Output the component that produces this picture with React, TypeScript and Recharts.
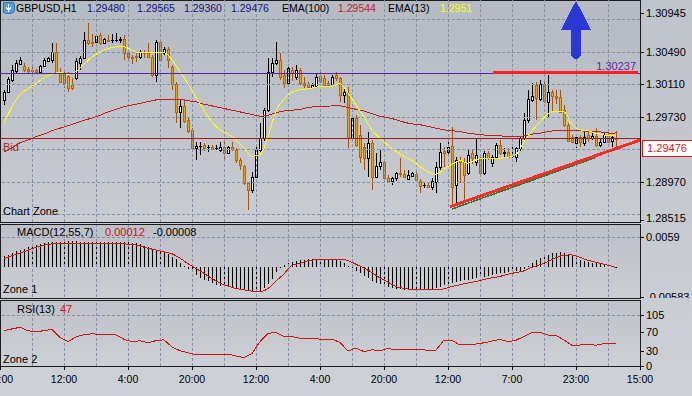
import React from 'react';
import { ComposedChart, Bar, Line, XAxis, YAxis, ReferenceLine, ReferenceDot } from 'recharts';

const FONT = '"Liberation Sans", Arial, sans-serif';

// GBPUSD H1 candles, oldest first
const opens = [
  1.2993, 1.3002, 1.3016, 1.3027, 1.3035, 1.3033, 1.3029, 1.3028, 1.3028, 1.3026,
  1.3033, 1.3039, 1.3040, 1.3049, 1.3026, 1.3023, 1.3021, 1.3010, 1.3019, 1.3036,
  1.3042, 1.3063, 1.3061, 1.3061, 1.3069, 1.3060, 1.3063, 1.3063, 1.3063, 1.3063,
  1.3064, 1.3048, 1.3043, 1.3044, 1.3043, 1.3049, 1.3048, 1.3043, 1.3022, 1.3061,
  1.3048, 1.3053, 1.3032, 1.3012, 1.2979, 1.2986, 1.2970, 1.2958, 1.2937, 1.2939,
  1.2940, 1.2938, 1.2938, 1.2937, 1.2934, 1.2938, 1.2931, 1.2938, 1.2934, 1.2923,
  1.2916, 1.2896, 1.2888, 1.2903, 1.2934, 1.2948, 1.2981, 1.3026, 1.3036, 1.3040,
  1.3022, 1.3013, 1.3028, 1.3020, 1.3028, 1.3013, 1.3012, 1.3008, 1.3009, 1.3021,
  1.3019, 1.3013, 1.3012, 1.3022, 1.3019, 1.2999, 1.3001, 1.2948, 1.2972, 1.2952,
  1.2938, 1.2925, 1.2943, 1.2903, 1.2916, 1.2920, 1.2902, 1.2898, 1.2902, 1.2908,
  1.2906, 1.2901, 1.2904, 1.2906, 1.2898, 1.2894, 1.2894, 1.2891, 1.2897, 1.2915,
  1.2933, 1.2932, 1.2939, 1.2894, 1.2923, 1.2920, 1.2908, 1.2931, 1.2920, 1.2925,
  1.2908, 1.2931, 1.2919, 1.2926, 1.2940, 1.2931, 1.2932, 1.2927, 1.2926, 1.2937,
  1.2948, 1.2970, 1.2993, 1.3010, 1.2994, 1.3012, 1.2991, 1.3002, 1.2998, 1.2996,
  1.2981, 1.2964, 1.2950, 1.2943, 1.2950, 1.2943, 1.2952, 1.2948, 1.2951, 1.2940,
  1.2944, 1.2951, 1.2945, 1.2948,
];
const highs = [
  1.3005, 1.3020, 1.3034, 1.3040, 1.3043, 1.3036, 1.3032, 1.3032, 1.3029, 1.3034,
  1.3042, 1.3043, 1.3060, 1.3060, 1.3030, 1.3026, 1.3026, 1.3019, 1.3042, 1.3044,
  1.3072, 1.3083, 1.3070, 1.3070, 1.3071, 1.3065, 1.3069, 1.3070, 1.3071, 1.3067,
  1.3069, 1.3049, 1.3046, 1.3048, 1.3051, 1.3051, 1.3060, 1.3046, 1.3063, 1.3063,
  1.3055, 1.3055, 1.3034, 1.3014, 1.2993, 1.2993, 1.2972, 1.2960, 1.2944, 1.2944,
  1.2943, 1.2940, 1.2940, 1.2940, 1.2944, 1.2944, 1.2939, 1.2944, 1.2937, 1.2925,
  1.2917, 1.2897, 1.2909, 1.2938, 1.2966, 1.2984, 1.3042, 1.3042, 1.3061, 1.3048,
  1.3028, 1.3032, 1.3032, 1.3034, 1.3030, 1.3020, 1.3014, 1.3013, 1.3025, 1.3028,
  1.3022, 1.3015, 1.3022, 1.3026, 1.3020, 1.3008, 1.3008, 1.2975, 1.2975, 1.2964,
  1.2943, 1.2956, 1.2946, 1.2931, 1.2934, 1.2923, 1.2905, 1.2903, 1.2909, 1.2925,
  1.2911, 1.2911, 1.2909, 1.2909, 1.2901, 1.2896, 1.2896, 1.2902, 1.2920, 1.2943,
  1.2938, 1.2948, 1.2961, 1.2926, 1.2926, 1.2925, 1.2934, 1.2936, 1.2948, 1.2929,
  1.2933, 1.2933, 1.2929, 1.2943, 1.2946, 1.2937, 1.2937, 1.2938, 1.2938, 1.2950,
  1.2978, 1.3005, 1.3013, 1.3014, 1.3016, 1.3016, 1.3022, 1.3005, 1.3005, 1.3005,
  1.2987, 1.2966, 1.2952, 1.2952, 1.2952, 1.2956, 1.2956, 1.2954, 1.2960, 1.2948,
  1.2954, 1.2954, 1.2952, 1.29565,
];
const lows = [
  1.2987, 1.3001, 1.3014, 1.3025, 1.3034, 1.3026, 1.3025, 1.3020, 1.3023, 1.3023,
  1.3032, 1.3037, 1.3037, 1.3025, 1.3013, 1.3007, 1.3003, 1.3005, 1.3016, 1.3028,
  1.3040, 1.3057, 1.3055, 1.3060, 1.3057, 1.3060, 1.3061, 1.3060, 1.3060, 1.3060,
  1.3040, 1.3040, 1.3036, 1.3037, 1.3040, 1.3042, 1.3042, 1.3020, 1.3014, 1.3037,
  1.3046, 1.3030, 1.3005, 1.2966, 1.2960, 1.2966, 1.2954, 1.2932, 1.2923, 1.2929,
  1.2934, 1.2932, 1.2934, 1.2934, 1.2932, 1.2923, 1.2930, 1.2933, 1.2920, 1.2911,
  1.2894, 1.2864, 1.2885, 1.2903, 1.2932, 1.2946, 1.2979, 1.3020, 1.3034, 1.3016,
  1.3007, 1.3010, 1.3016, 1.3016, 1.3010, 1.3007, 1.3006, 1.3007, 1.3008, 1.3013,
  1.3008, 1.3009, 1.3010, 1.3016, 1.2991, 1.2989, 1.2937, 1.2946, 1.2938, 1.2919,
  1.2911, 1.2903, 1.2888, 1.2902, 1.2911, 1.2899, 1.2896, 1.2894, 1.2899, 1.2903,
  1.2902, 1.2899, 1.2903, 1.2897, 1.2885, 1.2890, 1.2890, 1.2888, 1.2884, 1.2911,
  1.2915, 1.2926, 1.2868, 1.2869, 1.2896, 1.2876, 1.2905, 1.2919, 1.2915, 1.2905,
  1.2905, 1.2923, 1.2915, 1.2925, 1.2929, 1.2926, 1.2925, 1.2925, 1.2920, 1.2934,
  1.2946, 1.2967, 1.2991, 1.2970, 1.2991, 1.2989, 1.2973, 1.2981, 1.2989, 1.2978,
  1.2961, 1.2944, 1.2943, 1.2937, 1.2938, 1.2940, 1.2944, 1.2946, 1.2938, 1.2937,
  1.2943, 1.2943, 1.2938, 1.2936,
];
const closes = [
  1.3002, 1.3018, 1.3028, 1.3036, 1.3040, 1.3028, 1.3027, 1.3027, 1.3026, 1.3033,
  1.3040, 1.3042, 1.3049, 1.3026, 1.3014, 1.3013, 1.3007, 1.3007, 1.3039, 1.3042,
  1.3063, 1.3060, 1.3060, 1.3068, 1.3060, 1.3064, 1.3062, 1.3063, 1.3063, 1.3064,
  1.3048, 1.3043, 1.3042, 1.3043, 1.3049, 1.3048, 1.3043, 1.3022, 1.3061, 1.3040,
  1.3053, 1.3040, 1.3012, 1.2979, 1.2986, 1.2968, 1.2957, 1.2937, 1.2939, 1.2939,
  1.2937, 1.2938, 1.2936, 1.2937, 1.2938, 1.2931, 1.2938, 1.2936, 1.2923, 1.2917,
  1.2896, 1.2888, 1.2903, 1.2934, 1.2948, 1.2981, 1.3026, 1.3036, 1.3040, 1.3020,
  1.3013, 1.3030, 1.3025, 1.3028, 1.3013, 1.3010, 1.3008, 1.3010, 1.3020, 1.3015,
  1.3010, 1.3010, 1.3020, 1.3019, 1.2999, 1.3002, 1.2948, 1.2972, 1.2940, 1.2926,
  1.2925, 1.2943, 1.2903, 1.2916, 1.2920, 1.2902, 1.2898, 1.2902, 1.2908, 1.2906,
  1.2903, 1.2905, 1.2908, 1.2899, 1.2892, 1.2894, 1.2891, 1.2898, 1.2915, 1.2932,
  1.2931, 1.2938, 1.2891, 1.2923, 1.2920, 1.2905, 1.2929, 1.2925, 1.2929, 1.2908,
  1.2931, 1.2925, 1.2926, 1.2940, 1.2931, 1.2932, 1.2926, 1.2927, 1.2937, 1.2948,
  1.2970, 1.2994, 1.2998, 1.2995, 1.3012, 1.2992, 1.3002, 1.2998, 1.2995, 1.2979,
  1.2964, 1.2945, 1.2944, 1.2950, 1.2944, 1.2950, 1.2948, 1.2951, 1.2940, 1.2944,
  1.2952, 1.2944, 1.2950, 1.29476,
];

// indicator readings taken on every second bar (0, 2, 4 ... 152)
const ema100 = [
  1.2932, 1.2937, 1.2943, 1.2946, 1.2950, 1.2953, 1.2957, 1.2960, 1.2963, 1.2966,
  1.2969, 1.2972, 1.2975, 1.2979, 1.2982, 1.2985, 1.2987, 1.2989, 1.2991, 1.2993,
  1.2994, 1.2994, 1.2994, 1.2992, 1.2991, 1.2988, 1.2986, 1.2984, 1.2982, 1.2980,
  1.2978, 1.2976, 1.2974, 1.2975, 1.2978, 1.2980, 1.2981, 1.2982, 1.2984, 1.2985,
  1.2985, 1.2986, 1.2986, 1.2984, 1.2982, 1.2980, 1.2977, 1.2974, 1.2972, 1.2970,
  1.2967, 1.2965, 1.2964, 1.2962, 1.2960, 1.2958, 1.2957, 1.2956, 1.2954, 1.2953,
  1.2952, 1.2951, 1.2951, 1.2950, 1.2950, 1.2951, 1.2953, 1.2954, 1.2956, 1.2957,
  1.2957, 1.2957, 1.2957, 1.2956, 1.2956, 1.2955, 1.2954,
];
const ema13 = [
  1.2966, 1.2985, 1.2999, 1.3006, 1.3012, 1.3019, 1.3023, 1.3025, 1.3023, 1.3026,
  1.3035, 1.3043, 1.3049, 1.3053, 1.3055, 1.3055, 1.3051, 1.3048, 1.3048, 1.3048,
  1.3048, 1.3040, 1.3026, 1.3012, 1.2996, 1.2981, 1.2967, 1.2958, 1.2953, 1.2946,
  1.2937, 1.2927, 1.2929, 1.2950, 1.2980, 1.2994, 1.3002, 1.3005, 1.3006, 1.3008,
  1.3009, 1.3009, 1.3012, 1.3001, 1.2987, 1.2973, 1.2958, 1.2948, 1.2940, 1.2933,
  1.2927, 1.2922, 1.2915, 1.2909, 1.2906, 1.2912, 1.2918, 1.2922, 1.2919, 1.2923,
  1.2925, 1.2925, 1.2925, 1.2926, 1.2929, 1.2944, 1.2957, 1.2967, 1.2977, 1.2980,
  1.2979, 1.2965, 1.2958, 1.2957, 1.2954, 1.2952, 1.2951,
];
const signal = [
  0.00168, 0.00223, 0.00278, 0.00332, 0.00387, 0.00428, 0.00456, 0.00473, 0.00473, 0.00473,
  0.00470, 0.00462, 0.00458, 0.00456, 0.00455, 0.00454, 0.00450, 0.00413, 0.00371, 0.00336,
  0.00299, 0.00262, 0.00176, 0.00070, -0.00025, -0.00121, -0.00221, -0.00311, -0.00369, -0.00416,
  -0.00444, -0.00469, -0.00481, -0.00416, -0.00270, -0.00133, 0.00035, 0.00076, 0.00125, 0.00149,
  0.00160, 0.00160, 0.00160, 0.00129, 0.00057, -0.00018, -0.00104, -0.00211, -0.00293, -0.00381,
  -0.00414, -0.00438, -0.00446, -0.00446, -0.00446, -0.00422, -0.00375, -0.00344, -0.00309, -0.00278,
  -0.00242, -0.00207, -0.00180, -0.00137, -0.00104, -0.00072, -0.00002, 0.00047, 0.00113, 0.00186,
  0.00235, 0.00239, 0.00192, 0.00135, 0.00096, 0.00057, 0.00018,
];
const rsi = [
  72.7, 76.4, 79.7, 72.5, 70.6, 72.7, 75.4, 59.1, 50.0, 60.1,
  64.4, 66.5, 64.9, 64.9, 64.2, 55.0, 50.0, 52.1, 48.0, 52.3,
  53.9, 39.1, 31.5, 27.4, 23.1, 24.1, 24.1, 24.1, 24.7, 20.4,
  17.3, 25.9, 50.0, 67.3, 69.0, 60.5, 60.7, 57.0, 57.0, 57.0,
  53.5, 55.6, 48.4, 30.9, 37.1, 29.4, 33.6, 31.3, 36.0, 33.4,
  34.6, 33.4, 34.4, 31.9, 32.5, 53.5, 52.5, 43.2, 44.7, 45.3,
  47.8, 51.3, 55.0, 50.0, 53.1, 60.9, 69.4, 69.4, 63.8, 62.8,
  53.5, 42.6, 43.2, 44.7, 42.8, 46.1, 45.7,
];
// readings of the last bar, as printed in the panel headers
const lastEma100 = 1.29544;
const lastEma13 = 1.2951;
const lastMacd = 0.00012;
const lastSignal = -0.00008;
const lastRsi = 47;

// MACD(12,55,7) main line, one value per bar
const macd = [
  0.00219, 0.00248, 0.00278, 0.00307, 0.00336, 0.00362, 0.00389, 0.00414, 0.00438, 0.00454,
  0.00469, 0.00487, 0.00495, 0.00500, 0.00502, 0.00506, 0.00510, 0.00510, 0.00506, 0.00502,
  0.00497, 0.00494, 0.00492, 0.00493, 0.00495, 0.00494, 0.00492, 0.00491, 0.00490, 0.00490,
  0.00489, 0.00485, 0.00480, 0.00473, 0.00444, 0.00414, 0.00389, 0.00364, 0.00340, 0.00317,
  0.00297, 0.00264, 0.00209, 0.00154, 0.00090, 0.00023, -0.00039, -0.00094, -0.00152, -0.00211,
  -0.00242, -0.00276, -0.00309, -0.00340, -0.00360, -0.00373, -0.00387, -0.00403, -0.00418, -0.00434,
  -0.00450, -0.00465, -0.00481, -0.00477, -0.00461, -0.00407, -0.00334, -0.00231, -0.00094, -0.00006,
  0.00051, 0.00084, 0.00109, 0.00125, 0.00141, 0.00145, 0.00151, 0.00154, 0.00158, 0.00160,
  0.00160, 0.00160, 0.00160, 0.00143, 0.00121, 0.00074, 0.00027, -0.00020, -0.00066, -0.00113,
  -0.00168, -0.00221, -0.00276, -0.00309, -0.00338, -0.00366, -0.00393, -0.00411, -0.00420, -0.00430,
  -0.00438, -0.00446, -0.00446, -0.00446, -0.00446, -0.00446, -0.00434, -0.00424, -0.00409, -0.00383,
  -0.00354, -0.00325, -0.00301, -0.00289, -0.00274, -0.00260, -0.00246, -0.00237, -0.00217, -0.00201,
  -0.00188, -0.00168, -0.00151, -0.00133, -0.00113, -0.00108, -0.00102, -0.00096, -0.00082, -0.00066,
  -0.00045, 0.00023, 0.00082, 0.00141, 0.00170, 0.00207, 0.00239, 0.00270, 0.00285, 0.00297,
  0.00274, 0.00250, 0.00219, 0.00180, 0.00141, 0.00121, 0.00102, 0.00086, 0.00074, 0.00063,
  0.00051, 0.00041, 0.00031, lastMacd,
];

const bidPrice = 1.29476;
const levelPrice = 1.30237;
const priceTicks = [1.28515, 1.2897, 1.2973, 1.3011, 1.3049, 1.30945];
const priceGrid = [1.2859, 1.2897, 1.2935, 1.2973, 1.3011, 1.3049, 1.3087];
const macdTicks = [-0.00583, 0.0059];
const rsiTicks = [0, 30, 70, 105];
const gridBars = [7, 15, 23, 31, 39, 47, 55, 63, 71, 79, 87, 95, 103, 111, 119, 127, 135, 143, 151];
const timeTicks = [-1, 15, 31, 47, 63, 79, 95, 111, 127, 143, 159];
const timeLabels = ['20:00', '12:00', '4:00', '20:00', '12:00', '4:00', '20:00', '12:00', '7:00', '23:00', '15:00'];

// hand-drawn objects on the price chart
const supportLine = [{ x: 111.5, y: 1.28682 }, { x: 159, y: 1.2946 }];
const supportShadow = [{ x: 112, y: 1.28655 }, { x: 148, y: 1.29259 }];
const resistLine = [{ x: 122.25, y: 1.3025 }, { x: 158.5, y: 1.3025 }];
const arrowTip = { x: 143, y: 1.3109 };

const X_DOMAIN: [number, number] = [-1, 159];
const lastBar = closes.length - 1;

// every-second-bar readings plus the header value of the last bar
const sparse = (arr: number[], last: number) =>
  arr.map((v, k) => ({ i: k * 2, v })).concat([{ i: lastBar, v: last }]);

const bars = closes.map((c, i) => ({
  i, o: opens[i], h: highs[i], l: lows[i], c, range: [lows[i], highs[i]],
}));
const ema100Pts = sparse(ema100, lastEma100);
const ema13Pts = sparse(ema13, lastEma13);
const macdRows = macd.map((m, i) => ({ i, hist: m }));
const signalPts = sparse(signal, lastSignal);
const rsiPts = sparse(rsi, lastRsi);

const GRID = '#8592a6';
const axisTick = { fontSize: 11, fill: '#000', fontFamily: FONT };

function Candle(props: any) {
  const { x, y, width, height, payload } = props;
  if (x == null || payload == null) return null;
  const { o, h, l, c } = payload;
  const y0 = Math.min(y, y + height);
  const hh = Math.abs(height);
  const span = h - l;
  const py = (v: number) => (span > 0 ? y0 + ((h - v) / span) * hh : y0);
  const cx = Math.floor(x + width / 2);
  const up = c >= o;
  const top = Math.round(py(Math.max(o, c)));
  const bot = Math.round(py(Math.min(o, c)));
  const wick = up ? '#000000' : '#a4520c';
  return (
    <g>
      <rect x={cx} y={Math.round(y0)} width={1} height={Math.max(1, Math.round(hh))} fill={wick} />
      {bot - top < 1 ? (
        <rect x={cx - 1} y={top} width={3} height={1} fill={wick} />
      ) : (
        <rect x={cx - 0.5} y={top + 0.5} width={2} height={bot - top}
          fill={up ? '#ffffff' : '#f5a400'} stroke={up ? '#000000' : '#b86400'} strokeWidth={1} />
      )}
    </g>
  );
}

function HistBar(props: any) {
  const { x, y, width, height } = props;
  if (x == null) return null;
  const y0 = Math.min(y, y + height);
  return <rect x={Math.floor(x + width / 2)} y={y0} width={1} height={Math.max(1, Math.abs(height))} fill="#000" />;
}

// the lowest price label sits a little above its tick, as in the terminal
function PriceTick(props: any) {
  const { x, y, payload } = props;
  const lift = payload.value === priceTicks[0] ? -3 : 0;
  return (
    <text x={x} y={y + lift} dy="0.355em" textAnchor="start" fill="#000" fontSize={11} fontFamily={FONT}>
      {Number(payload.value).toFixed(5)}
    </text>
  );
}

function UpArrow(props: any) {
  const { cx, cy } = props;
  if (cx == null) return null;
  const d = `M${cx},${cy} L${cx + 15},${cy + 29} L${cx + 5},${cy + 29} L${cx + 5},${cy + 55} ` +
    `Q${cx},${cy + 62} ${cx - 5},${cy + 55} L${cx - 5},${cy + 29} L${cx - 15},${cy + 29} Z`;
  return <path d={d} fill="#2a38d6" />;
}

function BidLabel(props: any) {
  const { x, y, width } = props.viewBox;
  return (
    <g>
      <text x={x + 3} y={y + 12} fill="#b02424" fontSize={11} fontFamily={FONT}>Bid</text>
      <rect x={x + width + 2.5} y={y + 1.5} width={50} height={16} fill="#ffffff" stroke="#d41a1a" />
      <text x={x + width + 27} y={y + 13.5} textAnchor="middle" fill="#e01010" fontSize={11} fontFamily={FONT}>
        {bidPrice.toFixed(5)}
      </text>
    </g>
  );
}

const gridLinesX = gridBars.map((g) => (
  <ReferenceLine key={'gx' + g} x={g} stroke={GRID} strokeDasharray="3 2" />
));

const panel = (top: number, height: number, from: string, to: string): React.CSSProperties => ({
  position: 'absolute', left: 0, top, width: 641, height, boxSizing: 'border-box',
  border: '1px solid #1c1c1c', background: `linear-gradient(${from}, ${to})`,
});

export default function App() {
  return (
    <div style={{ position: 'absolute', left: 0, top: 0, width: 692, height: 396, overflow: 'hidden',
      background: 'linear-gradient(#bfc3ca, #cdd0d4)', fontFamily: FONT, shapeRendering: 'crispEdges' }}>
      <div style={panel(0, 223, '#b5bac3', '#c9ccd1')} />
      <div style={panel(224, 75, '#bcc0c7', '#cbced2')} />
      <div style={panel(300, 67, '#bec2c8', '#cdd0d4')} />

      <div style={{ position: 'absolute', left: 0, top: 0 }}>
        <ComposedChart width={692} height={224} data={bars} margin={{ top: 0, right: 0, bottom: 2, left: 0 }}>
          <XAxis type="number" dataKey="i" domain={X_DOMAIN} hide allowDataOverflow />
          <YAxis orientation="right" width={52} domain={[1.28503, 1.31098]} ticks={priceTicks}
            allowDataOverflow tick={<PriceTick />}
            tickSize={4} tickLine={{ stroke: '#111' }} axisLine={false} interval={0} />
          {gridLinesX}
          {priceGrid.map((p) => (
            <ReferenceLine key={'gy' + p} y={p} stroke={GRID} strokeDasharray="3 2" />
          ))}
          <Bar dataKey="range" barSize={3} shape={<Candle />} isAnimationActive={false} />
          <Line data={ema100Pts} dataKey="v" type="monotone" stroke="#c41c1c" strokeWidth={1}
            dot={false} activeDot={false} isAnimationActive={false} />
          <Line data={ema13Pts} dataKey="v" type="monotone" stroke="#ffff00" strokeWidth={1}
            dot={false} activeDot={false} isAnimationActive={false} />
          <ReferenceLine y={levelPrice} stroke="#5e1fa8" strokeWidth={1}
            label={{ value: levelPrice.toFixed(5), position: 'insideBottomRight', offset: 4, fill: '#5a2aa0', fontSize: 11, fontFamily: FONT }} />
          <ReferenceLine y={bidPrice} stroke="#a31a1a" strokeWidth={1} label={<BidLabel />} />
          <ReferenceLine segment={supportShadow} stroke="#2f7a2f" strokeWidth={1.5} />
          <ReferenceLine segment={supportLine} stroke="#ff2b2b" strokeWidth={3} />
          <ReferenceLine segment={resistLine} stroke="#ff2020" strokeWidth={3} />
          <ReferenceDot x={arrowTip.x} y={arrowTip.y} r={1} shape={<UpArrow />} ifOverflow="visible" />
        </ComposedChart>
      </div>

      <div style={{ position: 'absolute', left: 0, top: 224 }}>
        <ComposedChart width={692} height={74} data={macdRows} margin={{ top: 1, right: 0, bottom: 1, left: 0 }}>
          <XAxis type="number" dataKey="i" domain={X_DOMAIN} hide allowDataOverflow />
          <YAxis orientation="right" width={52} domain={[-0.00583, 0.00825]} ticks={macdTicks}
            allowDataOverflow tickFormatter={(v: number) => String(v)} tick={axisTick}
            tickSize={4} tickLine={{ stroke: '#111' }} axisLine={false} interval={0} />
          {gridLinesX}
          <ReferenceLine y={0.0059} stroke={GRID} strokeDasharray="3 2" />
          <Bar dataKey="hist" barSize={1} shape={<HistBar />} isAnimationActive={false} />
          <Line data={signalPts} dataKey="v" type="monotone" stroke="#cc1414" strokeWidth={1}
            dot={false} activeDot={false} isAnimationActive={false} />
        </ComposedChart>
      </div>

      <div style={{ position: 'absolute', left: 0, top: 300 }}>
        <ComposedChart width={692} height={96} data={rsiPts} margin={{ top: 2, right: 0, bottom: 0, left: 0 }}>
          <XAxis type="number" dataKey="i" domain={X_DOMAIN} ticks={timeTicks} interval={0}
            allowDataOverflow height={30}
            tickFormatter={(v: number) => timeLabels[timeTicks.indexOf(v)]}
            tick={{ fontSize: 10.5, fill: '#000', fontFamily: FONT }}
            tickSize={4} tickMargin={6} tickLine={{ stroke: '#111' }} axisLine={false} />
          <YAxis orientation="right" width={52} domain={[0, 131.8]} ticks={rsiTicks}
            allowDataOverflow tick={axisTick} tickSize={4} tickLine={{ stroke: '#111' }}
            axisLine={false} interval={0} />
          {gridLinesX}
          <ReferenceLine y={105} stroke={GRID} strokeDasharray="3 2" />
          <Line dataKey="v" type="linear" stroke="#cc1414" strokeWidth={1}
            dot={false} activeDot={false} isAnimationActive={false} />
        </ComposedChart>
      </div>

      <svg width={692} height={396} style={{ position: 'absolute', left: 0, top: 0, pointerEvents: 'none' }}
        fontFamily={FONT}>
        <rect x={3} y={2} width={11} height={11} rx={2} fill="#4f9fe6" stroke="#2f76c0" />
        <path d="M8.5,4 V10 M6,7.5 L8.5,10.5 L11,7.5" stroke="#ffffff" strokeWidth={1.5} fill="none" />
        <g fontSize={10.5}>
          <text x={16} y={12} fill="#000">GBPUSD,H1</text>
          <text x={87} y={12} fill="#14147e">1.29480</text>
          <text x={137} y={12} fill="#14147e">1.29565</text>
          <text x={184} y={12} fill="#14147e">1.29360</text>
          <text x={231} y={12} fill="#14147e">1.29476</text>
          <text x={282} y={12} fill="#000">EMA(100)</text>
          <text x={338} y={12} fill="#c81e1e">{lastEma100.toFixed(5)}</text>
          <text x={388} y={12} fill="#000">EMA(13)</text>
          <text x={440} y={12} fill="#ffff00">{lastEma13.toFixed(4)}</text>
        </g>
        <g fontSize={11}>
          <text x={3} y={215} fill="#000">Chart Zone</text>
          <text x={17} y={236} fill="#000">MACD(12,55,7)</text>
          <text x={105} y={236} fill="#d01010">{lastMacd.toFixed(5)}</text>
          <text x={153} y={236} fill="#000">{lastSignal.toFixed(5)}</text>
          <text x={3} y={293} fill="#000">Zone 1</text>
          <text x={17} y={313} fill="#000">RSI(13)</text>
          <text x={60} y={313} fill="#d01010">{lastRsi}</text>
          <text x={3} y={363} fill="#000">Zone 2</text>
        </g>
      </svg>
    </div>
  );
}
